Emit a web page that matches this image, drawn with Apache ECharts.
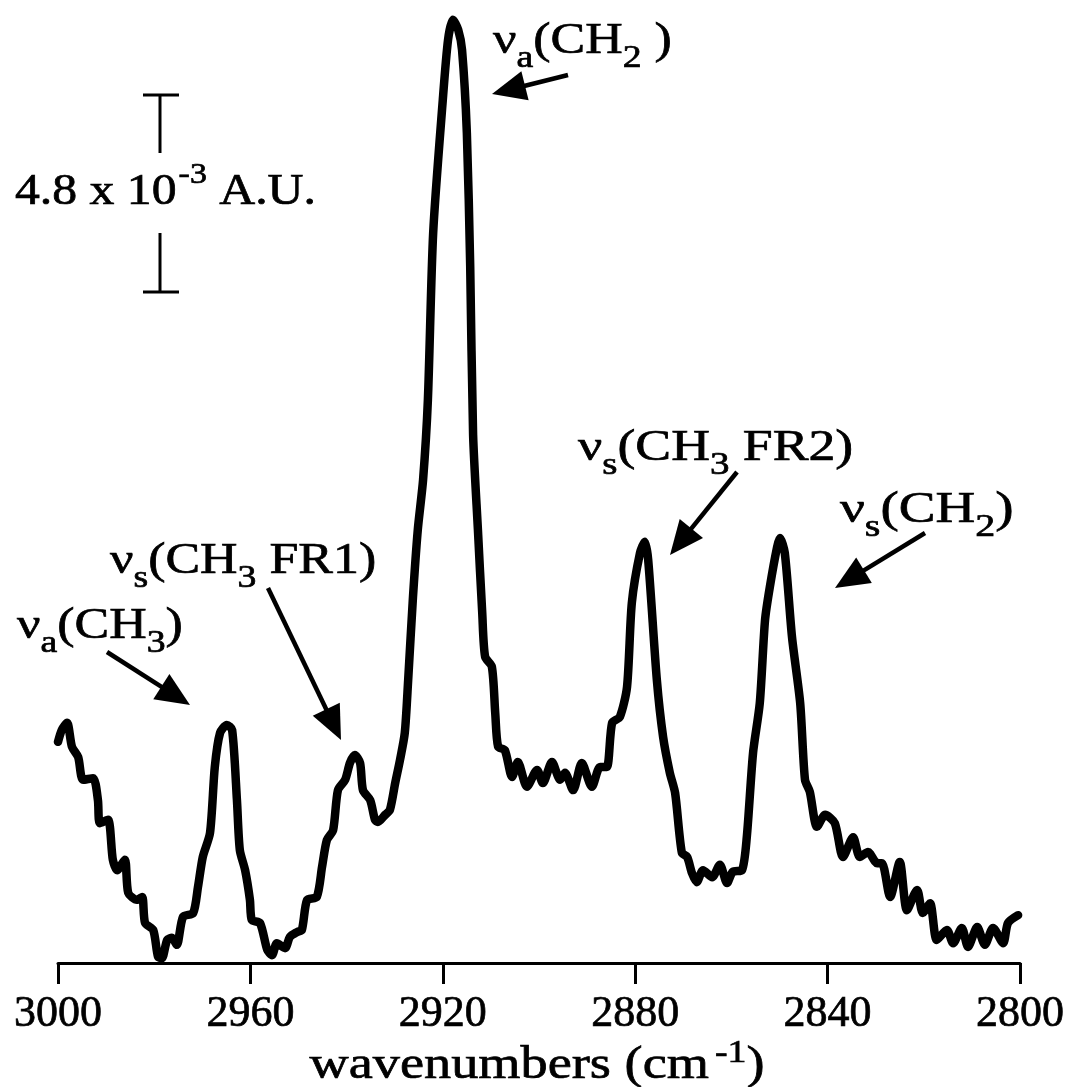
<!DOCTYPE html>
<html><head><meta charset="utf-8">
<script src="https://cdn.jsdelivr.net/npm/echarts@6/dist/echarts.min.js"></script>
<style>html,body{margin:0;padding:0;background:#fff}#c{width:1074px;height:1087px}</style>
</head><body><div id="c"></div>
<script>
// wavenumbers (cm-1)
const wavenumbers = [
3000.0,2999.2,2998.1,2997.1,2995.8,2994.8,2992.7,2991.7,2991.3,2989.6,
2988.6,2987.7,2986.1,2985.4,2983.6,2982.5,2981.9,2980.2,2979.2,2978.4,
2977.3,2976.3,2975.3,2974.0,2971.9,2970.9,2969.9,2968.4,2967.4,2966.3,
2964.9,2963.8,2962.8,2962.2,2961.1,2960.1,2959.7,2958.0,2956.5,2955.5,
2954.5,2952.8,2951.8,2950.3,2949.3,2948.2,2946.2,2945.1,2944.1,2942.8,
2941.8,2940.3,2939.3,2938.3,2937.2,2936.6,2935.1,2934.1,2933.5,2932.0,
2931.0,2929.9,2928.9,2927.9,2927.2,2926.2,2925.2,2924.1,2923.1,2922.0,
2920.0,2918.9,2917.9,2916.8,2916.0,2915.0,2914.3,2913.7,2912.7,2911.8,
2911.2,2909.8,2909.1,2908.5,2907.1,2905.6,2904.4,2902.5,2900.4,2899.2,
2897.3,2895.6,2894.6,2892.9,2891.1,2889.0,2887.3,2885.9,2884.8,2883.2,
2881.7,2880.7,2879.0,2878.0,2877.3,2875.5,2874.2,2872.8,2871.7,2870.3,
2869.2,2868.2,2867.2,2865.9,2864.0,2862.4,2860.9,2859.7,2857.8,2856.8,
2855.5,2854.1,2853.0,2852.0,2850.5,2849.9,2848.9,2847.4,2845.7,2844.7,
2843.7,2842.2,2840.5,2838.5,2836.8,2834.7,2833.3,2831.6,2829.7,2828.7,
2827.0,2825.0,2823.5,2821.4,2820.2,2818.7,2817.3,2815.2,2813.9,2812.1,
2810.8,2808.9,2807.3,2805.6,2803.5,2802.5,2800.4
];
// absorbance (10^-3 A.U., relative to baseline)
const absorbance = [
5.36,5.65,5.82,5.24,4.99,4.44,4.48,3.95,3.39,3.47,
2.50,2.25,2.50,1.70,1.53,1.60,0.97,0.80,0.15,0.12,
0.56,0.61,0.44,1.12,1.21,1.84,2.57,3.15,4.75,5.58,
5.77,5.65,3.95,2.74,2.25,1.53,1.04,0.97,0.32,0.19,
0.48,0.36,0.63,0.75,0.80,1.53,1.60,2.33,2.98,3.22,
4.19,4.44,4.85,5.04,4.85,4.19,3.95,3.47,3.42,3.59,
3.71,4.36,4.92,5.58,6.86,8.87,10.50,11.71,13.65,17.70,
20.92,22.38,22.86,22.62,22.13,20.12,16.87,12.80,10.50,8.48,
7.42,7.18,6.06,5.24,5.16,4.51,4.87,4.27,4.68,4.36,
4.87,4.44,4.61,4.19,4.85,4.27,4.75,4.75,5.82,5.96,
6.69,8.73,9.94,10.21,9.77,6.86,5.48,4.61,4.12,2.67,
2.57,2.18,1.96,2.25,2.08,2.38,1.94,2.21,2.25,3.05,
5.09,6.30,8.32,9.12,10.08,10.30,9.94,7.90,6.30,4.44,
4.15,3.30,3.59,3.39,2.57,3.05,2.57,2.69,2.42,2.42,
1.60,2.45,1.28,1.77,1.21,1.45,0.56,0.80,0.48,0.85,
0.39,0.87,0.44,0.85,0.48,0.97,1.16
];
const tickLabels = ['2800','2840','2880','2920','2960','3000'];
const xTitle = ['wavenumbers (cm', '-1', ')'];

const FONT = '"Liberation Serif", "Times New Roman", serif';
const chart = echarts.init(document.getElementById('c'), null, {renderer: 'canvas'});
const ctx = document.createElement('canvas').getContext('2d');

function measure(t, fs) { ctx.font = fs + 'px ' + FONT; return ctx.measureText(t).width; }

function richText(x, midY, parts, o) {
  const els = [];
  const sx = o.sx || 1;
  let cx = x;
  for (const p of parts) {
    const fs = p.k === 'n' ? o.fs : o.sfs;
    const dy = p.k === 'sub' ? o.subDy : (p.k === 'sup' ? o.supDy : 0);
    cx += (p.dx || 0);
    els.push({type: 'text', x: cx, y: midY + dy, z: 10, scaleX: sx,
      style: {text: p.t, fontSize: fs, fontFamily: FONT, fill: '#000',
              stroke: '#000', lineWidth: 0.7,
              textAlign: 'left', textVerticalAlign: 'middle', align: 'left', verticalAlign: 'middle'}});
    cx += measure(p.t, fs) * sx;
  }
  return {els, width: cx - x};
}

function arrow(x1, y1, x2, y2) {
  const dx = x2 - x1, dy = y2 - y1, L = Math.hypot(dx, dy), ux = dx / L, uy = dy / L;
  const hl = 34, hw = 15;
  const bx = x2 - ux * hl, by = y2 - uy * hl;
  return [
    {type: 'line', z: 10, shape: {x1, y1, x2: bx + ux * 4, y2: by + uy * 4}, style: {stroke: '#000', lineWidth: 4.5}},
    {type: 'polygon', z: 10, shape: {points: [[x2, y2], [bx - uy * hw, by + ux * hw], [bx + uy * hw, by - ux * hw]]}, style: {fill: '#000'}}
  ];
}

const lab = {fs: 44, sfs: 32, subDy: 18, supDy: -17, sx: 1.18};
const N = t => ({t, k: 'n'}), S = t => ({t, k: 'sub'}), P = (t, dx) => ({t, k: 'sup', dx});

let g = [];
g = g.concat(richText(493, 41, [N('ν'), S('a'), N('(CH'), S('2'), N(' )')], lab).els);
g = g.concat(arrow(568, 75, 492, 94));
g = g.concat(richText(578, 448, [N('ν'), S('s'), N('(CH'), S('3'), N(' FR2)')], {fs: 44, sfs: 32, subDy: 18, supDy: -17, sx: 1.22}).els);
g = g.concat(arrow(737, 472, 670, 555));
g = g.concat(richText(840, 510, [N('ν'), S('s'), N('(CH'), S('2'), N(')')], {fs: 44, sfs: 32, subDy: 18, supDy: -17, sx: 1.25}).els);
g = g.concat(arrow(925, 533, 835, 588));
g = g.concat(richText(110, 561, [N('ν'), S('s'), N('(CH'), S('3'), N(' FR1)')], lab).els);
g = g.concat(arrow(268, 588, 341, 740));
g = g.concat(richText(17, 626, [N('ν'), S('a'), N('(CH'), S('3'), N(')')], lab).els);
g = g.concat(arrow(107, 652, 190, 705));
// scale bar
g = g.concat(richText(15, 192, [N('4.8 x 10'), P('-3', 2), N(' A.U.')], {fs: 44, sfs: 30, subDy: 18, supDy: -17, sx: 1.13}).els);
const bar = (x1, y1, x2, y2) => ({type: 'line', z: 10, shape: {x1, y1, x2, y2}, style: {stroke: '#000', lineWidth: 3}});
g.push(bar(143, 95, 179, 95), bar(160, 95, 160, 153), bar(160, 233, 160, 292), bar(143, 292, 179, 292));
// axis title
const titleParts = [N(xTitle[0]), P(xTitle[1], 6), N(xTitle[2])];
const tOpt = {fs: 46, sfs: 32, subDy: 18, supDy: -12, sx: 1.18};
const tw = richText(0, 0, titleParts, tOpt).width;
g = g.concat(richText(537 - tw / 2, 1066, titleParts, tOpt).els);

// data ordered by increasing wavenumber for the smoothing
const seriesData = wavenumbers.map((w, i) => [w, absorbance[i]]).reverse();

chart.setOption({
  backgroundColor: '#fff',
  animation: false,
  grid: {left: 58, right: 54, top: 14, height: 949, containLabel: false},
  xAxis: {
    type: 'value', min: 2800, max: 3000, interval: 40, inverse: true,
    axisLine: {show: true, onZero: false, lineStyle: {color: '#000', width: 3}},
    axisTick: {show: true, inside: false, length: 21, lineStyle: {color: '#000', width: 3}},
    axisLabel: {color: '#000', fontSize: 44, fontFamily: FONT, margin: 29,
      textBorderColor: '#000', textBorderWidth: 0.7,
      formatter: v => tickLabels[Math.round((v - 2800) / 40)]},
    splitLine: {show: false}
  },
  yAxis: {type: 'value', min: 0, max: 23, show: false},
  series: [{
    type: 'line', data: seriesData,
    showSymbol: false, smooth: 0.25, clip: false,
    lineStyle: {color: '#000', width: 8.5, cap: 'round', join: 'round'}
  }],
  graphic: {elements: g}
});
</script></body></html>
